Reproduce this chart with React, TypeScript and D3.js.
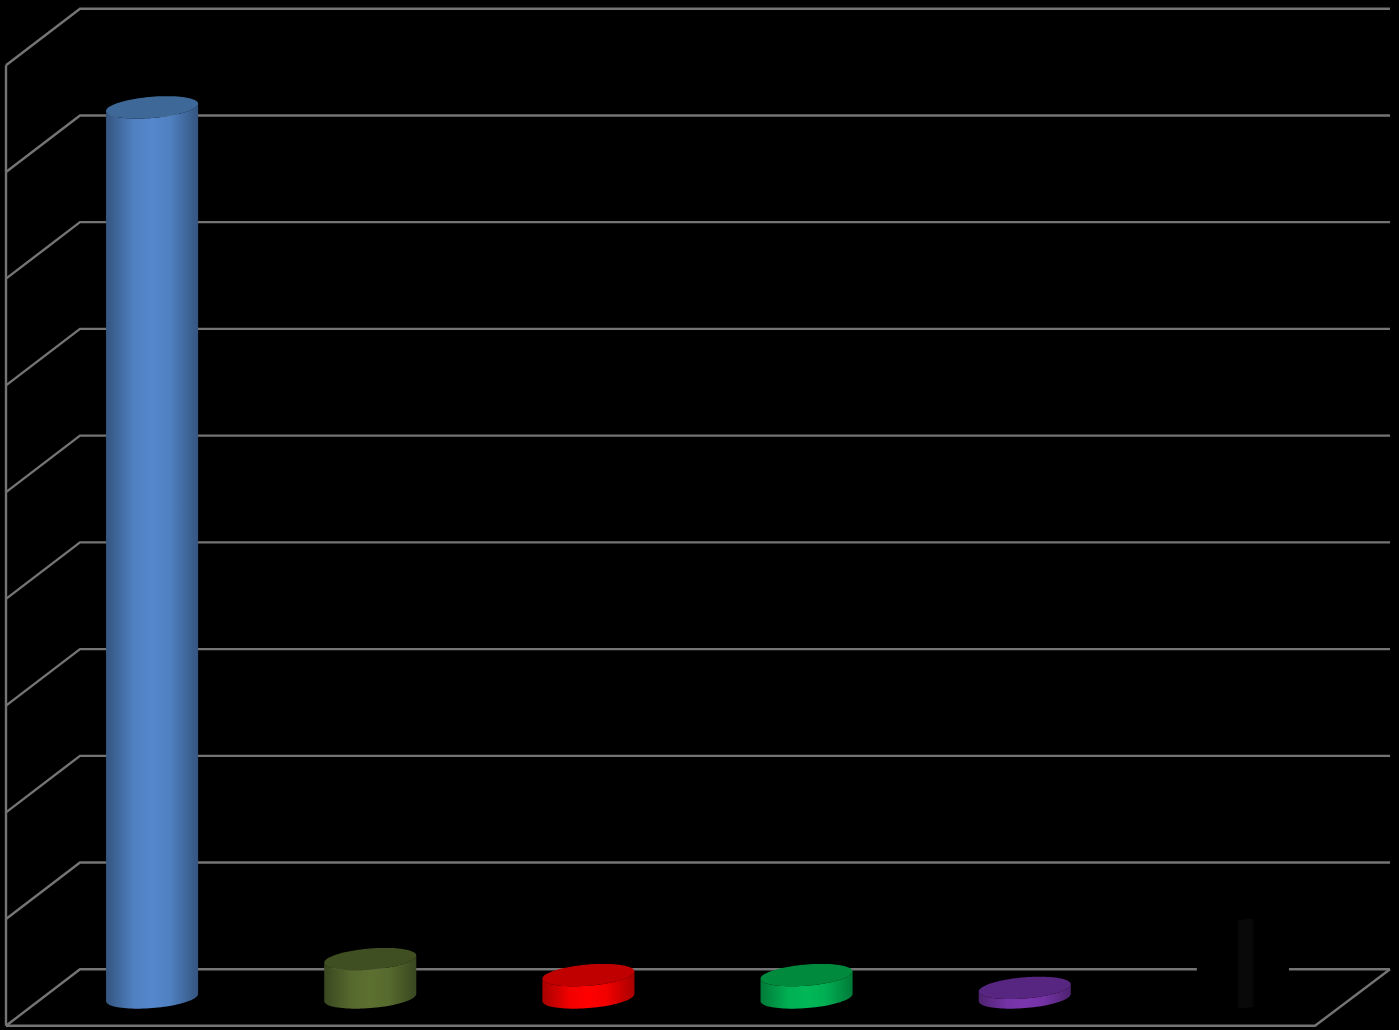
import React from 'react';
import * as d3 from 'd3';

const width = 1399;
const height = 1030;

// no category labels are shown in the picture
const categories = ['a', 'b', 'c', 'd', 'e', 'f'];
const values = [8.34, 0.36, 0.21, 0.21, 0.09, 0.83];
const bodyColors = ['#5487cc', '#5c7030', '#ff0000', '#00b858', '#7b35ae', '#090909'];
const edgeColors = ['#34557f', '#394820', '#a80000', '#007a38', '#4e2270', '#000000'];
const topColors = ['#3e6897', '#404f22', '#c00000', '#008a3e', '#572680', '#000000'];
const gridTicks = d3.range(0, 10);

const x = d3.scaleBand<string>().domain(categories).range([43, 1352]).paddingInner(0.578).paddingOuter(0.289);
const backY = d3.scaleLinear().domain([0, 9]).range([969.3, 8.7]);
const wallDx = 74;
const wallDy = 56.5;
const baseOffset = 28.2; // bars stand this far in front of the back wall
const barY = (v: number) => backY(v) + baseOffset;

const tilt = -3.6;
const minor = 10.6;

// tilted ellipse outline, t in radians, vertical tangents at the left and right ends
const rim = (cx: number, cy: number, a: number, t: number): [number, number] => [
  cx + a * Math.cos(t),
  cy + minor * Math.sin(t) + tilt * Math.cos(t),
];

const App: React.FC = () => {
  const line = d3.line();
  const a = x.bandwidth() / 2;
  const angles = d3.range(0, 49).map(i => (i / 48) * Math.PI);

  const grid = '#747474';

  return (
    <svg
      width={width}
      height={height}
      viewBox={`0 0 ${width} ${height}`}
      style={{ position: 'absolute', left: 0, top: 0, background: '#000', display: 'block' }}
    >
      <defs>
        {categories.map((c, i) => {
          const mid = d3.interpolateRgb(edgeColors[i], bodyColors[i])(0.85);
          // the black bar only shows a faint stripe, a little right of its middle
          const isBlack = c === 'f';
          return (
            <linearGradient key={c} id={`body-${c}`} x1="0" x2="1" y1="0" y2="0">
              <stop offset="0" stopColor={edgeColors[i]} />
              <stop offset={isBlack ? 0.43 : 0.3} stopColor={isBlack ? edgeColors[i] : mid} />
              <stop offset={isBlack ? 0.47 : 0.5} stopColor={bodyColors[i]} />
              {isBlack && <stop offset={0.59} stopColor={bodyColors[i]} />}
              <stop offset={isBlack ? 0.63 : 0.7} stopColor={isBlack ? edgeColors[i] : mid} />
              <stop offset="1" stopColor={edgeColors[i]} />
            </linearGradient>
          );
        })}
      </defs>

      <g fill="none" stroke={grid} strokeWidth="2.4">
        {gridTicks.map(t => (
          <path
            key={t}
            d={line([
              [6, backY(t) + wallDy],
              [80, backY(t)],
              [1390, backY(t)],
            ]) || ''}
          />
        ))}
        <line x1={6} y1={backY(9) + wallDy} x2={6} y2={backY(0) + wallDy} />
        <path
          d={line([
            [6, backY(0) + wallDy],
            [1390 - wallDx - 1, backY(0) + wallDy],
            [1390, backY(0)],
          ]) || ''}
        />
      </g>

      {categories.map((c, i) => {
        const cx = (x(c) as number) + a;
        const y0 = barY(0);
        const y1 = barY(values[i]);
        const bottom = angles.map(t => rim(cx, y0, a, t));
        const top = angles.map(t => rim(cx, y1, a, t));
        const side = [...bottom, ...[...top].reverse()] as [number, number][];
        const lid = angles.map(t => rim(cx, y1, a, t + Math.PI));
        return (
          <g key={c}>
            <path d={(line(side) || '') + 'Z'} fill={`url(#body-${c})`} />
            <path d={(line([...top, ...lid]) || '') + 'Z'} fill={topColors[i]} />
          </g>
        );
      })}
    </svg>
  );
};

export default App;
